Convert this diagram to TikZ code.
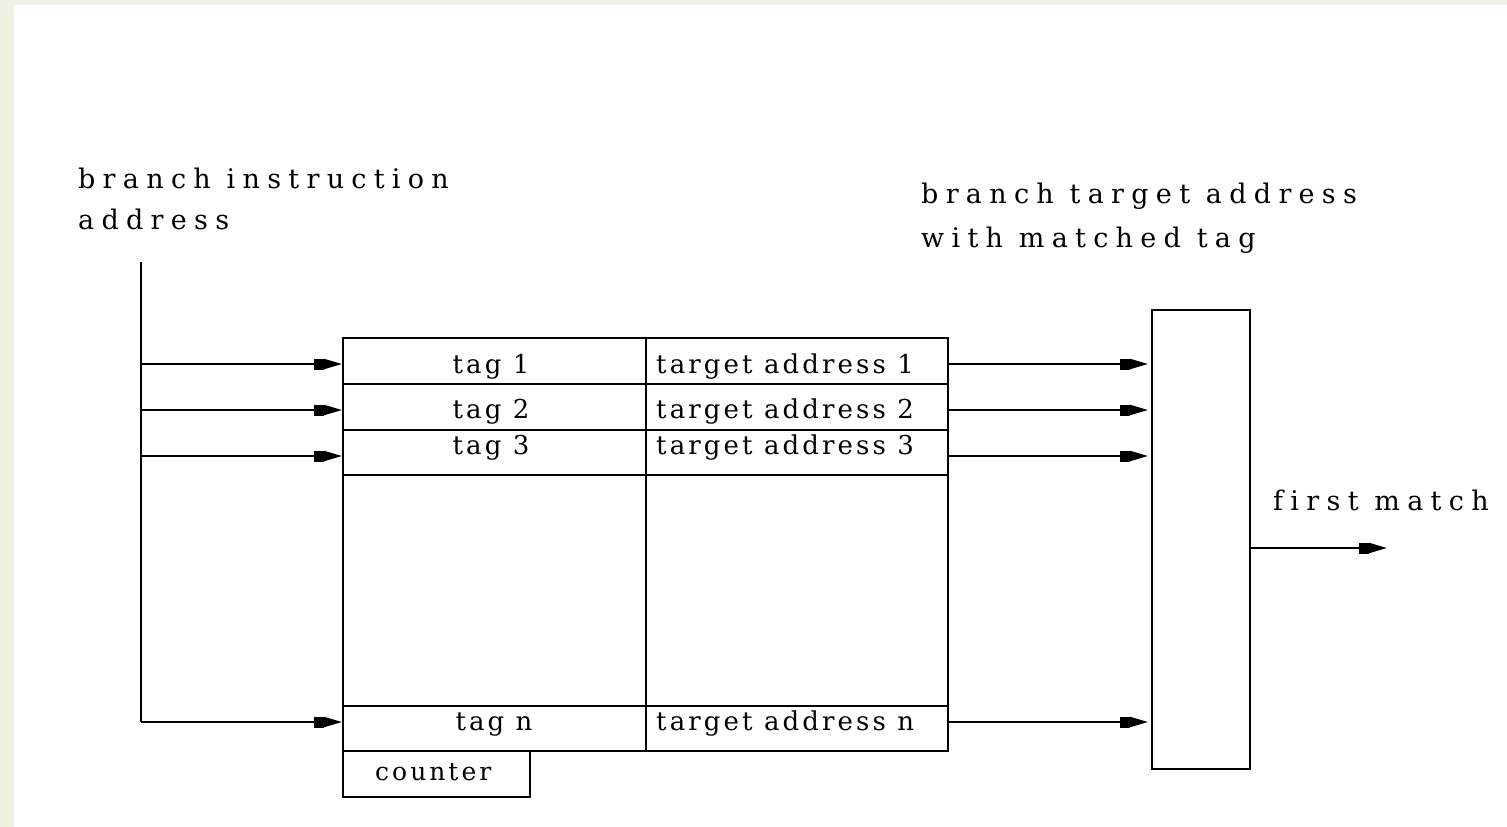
\documentclass[tikz,border=0pt]{standalone}
\usepackage{fontspec}
\setmainfont{DejaVu Serif}
\newfontfamily\biglbl[LetterSpace=27,Ligatures=NoCommon]{DejaVu Serif}
\newfontfamily\cellfnt[LetterSpace=12,Ligatures=NoCommon]{DejaVu Serif}
\usetikzlibrary{arrows.meta}
\definecolor{pagebg}{HTML}{EFF2E3}
\tikzset{
  wire/.style={line width=2pt},
  feed/.style={wire,-{Square[length=10pt,width=11pt]Triangle[length=18pt,width=10pt]}},
  cellbox/.style={draw,line width=2pt,rectangle,inner sep=0pt,anchor=north west},
  biglabel/.style={inner sep=0pt,anchor=base west,font=\biglbl\fontsize{27}{32}\selectfont},
  celllabel/.style={inner sep=0pt,anchor=base,font=\cellfnt\fontsize{26}{30}\selectfont},
  addrlabel/.style={inner sep=0pt,anchor=base west,font=\cellfnt\fontsize{26}{30}\selectfont},
}
\begin{document}
\begin{tikzpicture}[x=1pt,y=-1pt]
% page and white sheet
\fill[pagebg] (0,0) rectangle (1507,827);
\fill[white] (14,5) rectangle (1507,827);
\useasboundingbox (0,0) rectangle (1507,827);

% table cells: tag column and target address column
\node[cellbox,minimum width=303pt,minimum height=46pt] (t1) at (342,337) {};
\node[cellbox,minimum width=302pt,minimum height=46pt] (a1) at (645,337) {};
\node[cellbox,minimum width=303pt,minimum height=46pt] (t2) at (342,383) {};
\node[cellbox,minimum width=302pt,minimum height=46pt] (a2) at (645,383) {};
\node[cellbox,minimum width=303pt,minimum height=45pt] (t3) at (342,429) {};
\node[cellbox,minimum width=302pt,minimum height=45pt] (a3) at (645,429) {};
\node[cellbox,minimum width=303pt,minimum height=231pt] (tm) at (342,474) {};
\node[cellbox,minimum width=302pt,minimum height=231pt] (am) at (645,474) {};
\node[cellbox,minimum width=303pt,minimum height=45pt] (tn) at (342,705) {};
\node[cellbox,minimum width=302pt,minimum height=45pt] (an) at (645,705) {};
\node[cellbox,minimum width=187pt,minimum height=46pt] (cnt) at (342,750) {};

% selector box
\node[cellbox,minimum width=98pt,minimum height=459pt] (sel) at (1151,309) {};

% cell texts
\node[celllabel] (lt1) at (491,373) {tag 1};
\node[celllabel] (lt2) at (491,418) {tag 2};
\node[celllabel] (lt3) at (491,454) {tag 3};
\node[celllabel] (ltn) at (494,730) {tag n};
\node[addrlabel] (la1) at (656,373) {target address 1};
\node[addrlabel] (la2) at (656,418) {target address 2};
\node[addrlabel] (la3) at (656,454) {target address 3};
\node[addrlabel] (lan) at (656,730) {target address n};
\node[addrlabel,font=\cellfnt\fontsize{25}{30}\selectfont] (lc) at (375,780) {counter};

% outside labels
\node[biglabel] (in1) at (78,188) {branch instruction};
\node[biglabel] (in2) at (78,229) {address};
\node[biglabel] (out1) at (921,203) {branch target address};
\node[biglabel] (out2) at (921,247) {with matched tag};
\node[biglabel] (fm) at (1273,510) {first match};

% address bus on the left
\coordinate (bustop) at (141,262);
\coordinate (b1) at (141,364);
\coordinate (b2) at (141,410);
\coordinate (b3) at (141,456);
\coordinate (bn) at (141,722);
\draw[wire] (bustop) -- (bn);
\draw[feed] (b1) -- (b1 -| t1.west);
\draw[feed] (b2) -- (b2 -| t2.west);
\draw[feed] (b3) -- (b3 -| t3.west);
\draw[feed] (bn) -- (bn -| tn.west);

% target addresses into the selector
\coordinate (r1) at (947,364);
\coordinate (r2) at (947,410);
\coordinate (r3) at (947,456);
\coordinate (rn) at (947,722);
\draw[feed] (r1) -- ([xshift=-3pt]r1 -| sel.west);
\draw[feed] (r2) -- ([xshift=-3pt]r2 -| sel.west);
\draw[feed] (r3) -- ([xshift=-3pt]r3 -| sel.west);
\draw[feed] (rn) -- ([xshift=-3pt]rn -| sel.west);

% result
\coordinate (res) at (1387,548);
\draw[feed] (sel.east |- res) -- (res);
\end{tikzpicture}
\end{document}
